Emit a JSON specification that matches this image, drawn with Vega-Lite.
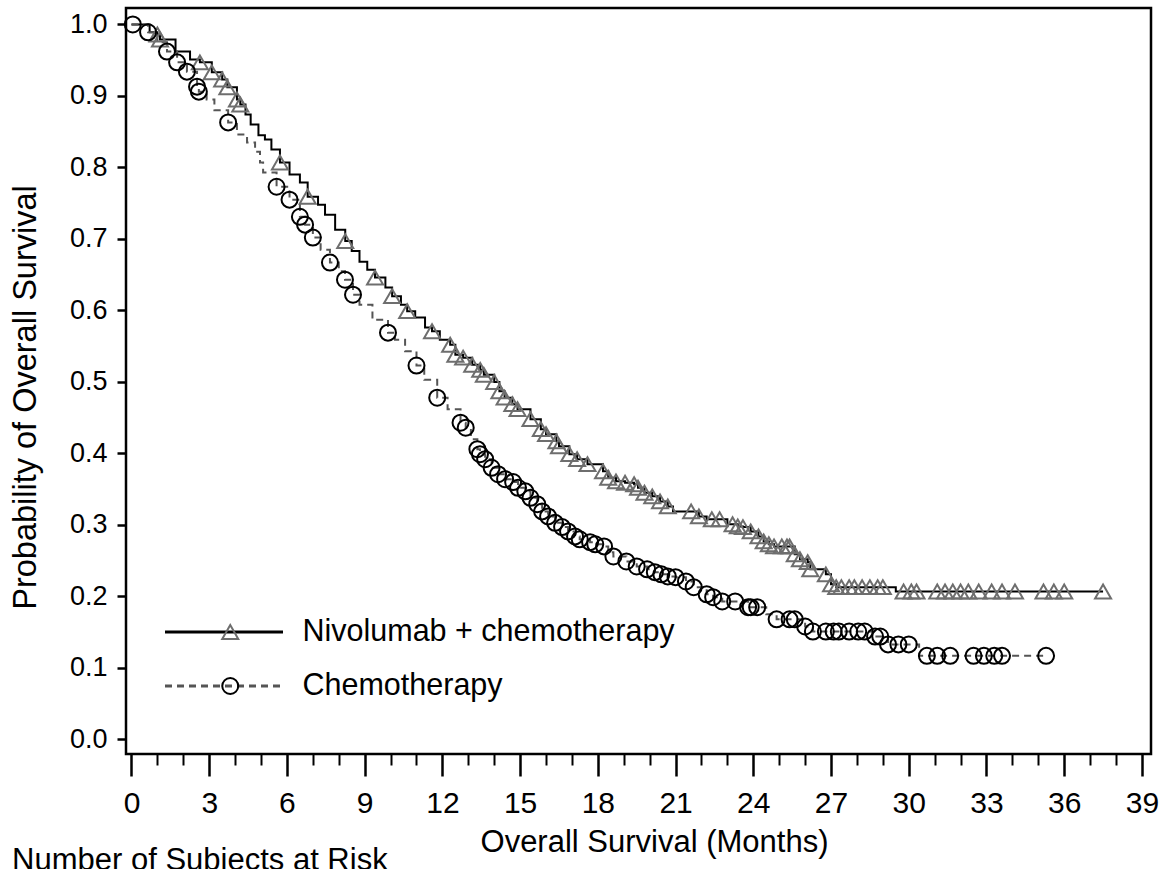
{
  "$schema": "https://vega.github.io/schema/vega-lite/v6.json",
  "width": 1025,
  "height": 746,
  "autosize": {"type": "none"},
  "padding": {"left": 126, "top": 8, "right": 15, "bottom": 115},
  "background": "white",
  "config": {
    "view": {"stroke": "black", "strokeWidth": 2.5},
    "font": "Liberation Sans, Arial, sans-serif"
  },
  "resolve": {"axis": {"x": "independent"}},
  "datasets": {
    "curve": [
      {"arm": "Nivolumab + chemotherapy", "t": 0, "s": 1.0},
      {"arm": "Nivolumab + chemotherapy", "t": 0.7, "s": 0.989},
      {"arm": "Nivolumab + chemotherapy", "t": 1.0, "s": 0.986},
      {"arm": "Nivolumab + chemotherapy", "t": 1.1, "s": 0.979},
      {"arm": "Nivolumab + chemotherapy", "t": 1.7, "s": 0.962},
      {"arm": "Nivolumab + chemotherapy", "t": 2.26, "s": 0.951},
      {"arm": "Nivolumab + chemotherapy", "t": 2.64, "s": 0.947},
      {"arm": "Nivolumab + chemotherapy", "t": 3.1, "s": 0.933},
      {"arm": "Nivolumab + chemotherapy", "t": 3.5, "s": 0.923},
      {"arm": "Nivolumab + chemotherapy", "t": 3.7, "s": 0.912},
      {"arm": "Nivolumab + chemotherapy", "t": 4.07, "s": 0.895},
      {"arm": "Nivolumab + chemotherapy", "t": 4.2, "s": 0.888},
      {"arm": "Nivolumab + chemotherapy", "t": 4.4, "s": 0.874},
      {"arm": "Nivolumab + chemotherapy", "t": 4.6, "s": 0.86},
      {"arm": "Nivolumab + chemotherapy", "t": 4.9, "s": 0.845},
      {"arm": "Nivolumab + chemotherapy", "t": 5.15, "s": 0.839},
      {"arm": "Nivolumab + chemotherapy", "t": 5.4, "s": 0.825},
      {"arm": "Nivolumab + chemotherapy", "t": 5.73, "s": 0.807},
      {"arm": "Nivolumab + chemotherapy", "t": 6.1, "s": 0.79},
      {"arm": "Nivolumab + chemotherapy", "t": 6.5, "s": 0.779},
      {"arm": "Nivolumab + chemotherapy", "t": 6.8, "s": 0.759},
      {"arm": "Nivolumab + chemotherapy", "t": 7.2, "s": 0.748},
      {"arm": "Nivolumab + chemotherapy", "t": 7.47, "s": 0.734},
      {"arm": "Nivolumab + chemotherapy", "t": 7.86, "s": 0.713},
      {"arm": "Nivolumab + chemotherapy", "t": 8.25, "s": 0.697},
      {"arm": "Nivolumab + chemotherapy", "t": 8.5, "s": 0.683},
      {"arm": "Nivolumab + chemotherapy", "t": 8.8, "s": 0.668},
      {"arm": "Nivolumab + chemotherapy", "t": 9.1, "s": 0.657},
      {"arm": "Nivolumab + chemotherapy", "t": 9.4, "s": 0.646},
      {"arm": "Nivolumab + chemotherapy", "t": 9.8, "s": 0.632},
      {"arm": "Nivolumab + chemotherapy", "t": 10.06, "s": 0.62},
      {"arm": "Nivolumab + chemotherapy", "t": 10.4, "s": 0.608},
      {"arm": "Nivolumab + chemotherapy", "t": 10.64, "s": 0.599},
      {"arm": "Nivolumab + chemotherapy", "t": 10.95, "s": 0.59},
      {"arm": "Nivolumab + chemotherapy", "t": 11.33, "s": 0.576},
      {"arm": "Nivolumab + chemotherapy", "t": 11.6, "s": 0.571},
      {"arm": "Nivolumab + chemotherapy", "t": 11.9, "s": 0.559},
      {"arm": "Nivolumab + chemotherapy", "t": 12.3, "s": 0.552},
      {"arm": "Nivolumab + chemotherapy", "t": 12.5, "s": 0.538},
      {"arm": "Nivolumab + chemotherapy", "t": 12.8, "s": 0.534},
      {"arm": "Nivolumab + chemotherapy", "t": 13.15, "s": 0.524},
      {"arm": "Nivolumab + chemotherapy", "t": 13.46, "s": 0.517},
      {"arm": "Nivolumab + chemotherapy", "t": 13.6, "s": 0.51},
      {"arm": "Nivolumab + chemotherapy", "t": 14.0, "s": 0.5},
      {"arm": "Nivolumab + chemotherapy", "t": 14.2, "s": 0.487},
      {"arm": "Nivolumab + chemotherapy", "t": 14.4, "s": 0.478},
      {"arm": "Nivolumab + chemotherapy", "t": 14.7, "s": 0.469},
      {"arm": "Nivolumab + chemotherapy", "t": 14.9, "s": 0.462},
      {"arm": "Nivolumab + chemotherapy", "t": 15.4, "s": 0.448},
      {"arm": "Nivolumab + chemotherapy", "t": 15.8, "s": 0.434},
      {"arm": "Nivolumab + chemotherapy", "t": 16.0, "s": 0.427},
      {"arm": "Nivolumab + chemotherapy", "t": 16.4, "s": 0.417},
      {"arm": "Nivolumab + chemotherapy", "t": 16.5, "s": 0.41},
      {"arm": "Nivolumab + chemotherapy", "t": 16.9, "s": 0.399},
      {"arm": "Nivolumab + chemotherapy", "t": 17.2, "s": 0.392},
      {"arm": "Nivolumab + chemotherapy", "t": 17.6, "s": 0.385},
      {"arm": "Nivolumab + chemotherapy", "t": 18.2, "s": 0.375},
      {"arm": "Nivolumab + chemotherapy", "t": 18.4, "s": 0.366},
      {"arm": "Nivolumab + chemotherapy", "t": 18.7, "s": 0.361},
      {"arm": "Nivolumab + chemotherapy", "t": 19.05, "s": 0.359},
      {"arm": "Nivolumab + chemotherapy", "t": 19.4, "s": 0.357},
      {"arm": "Nivolumab + chemotherapy", "t": 19.55, "s": 0.352},
      {"arm": "Nivolumab + chemotherapy", "t": 19.8, "s": 0.345},
      {"arm": "Nivolumab + chemotherapy", "t": 20.1, "s": 0.34},
      {"arm": "Nivolumab + chemotherapy", "t": 20.4, "s": 0.333},
      {"arm": "Nivolumab + chemotherapy", "t": 20.7, "s": 0.326},
      {"arm": "Nivolumab + chemotherapy", "t": 20.9, "s": 0.319},
      {"arm": "Nivolumab + chemotherapy", "t": 21.6, "s": 0.319},
      {"arm": "Nivolumab + chemotherapy", "t": 21.9, "s": 0.312},
      {"arm": "Nivolumab + chemotherapy", "t": 22.2, "s": 0.308},
      {"arm": "Nivolumab + chemotherapy", "t": 23.0, "s": 0.301},
      {"arm": "Nivolumab + chemotherapy", "t": 23.4, "s": 0.298},
      {"arm": "Nivolumab + chemotherapy", "t": 23.6, "s": 0.297},
      {"arm": "Nivolumab + chemotherapy", "t": 23.9, "s": 0.291},
      {"arm": "Nivolumab + chemotherapy", "t": 24.2, "s": 0.284},
      {"arm": "Nivolumab + chemotherapy", "t": 24.4, "s": 0.277},
      {"arm": "Nivolumab + chemotherapy", "t": 24.6, "s": 0.273},
      {"arm": "Nivolumab + chemotherapy", "t": 24.8, "s": 0.27},
      {"arm": "Nivolumab + chemotherapy", "t": 25.4, "s": 0.27},
      {"arm": "Nivolumab + chemotherapy", "t": 25.6, "s": 0.259},
      {"arm": "Nivolumab + chemotherapy", "t": 25.8, "s": 0.252},
      {"arm": "Nivolumab + chemotherapy", "t": 26.1, "s": 0.248},
      {"arm": "Nivolumab + chemotherapy", "t": 26.2, "s": 0.238},
      {"arm": "Nivolumab + chemotherapy", "t": 26.8, "s": 0.231},
      {"arm": "Nivolumab + chemotherapy", "t": 27.0, "s": 0.217},
      {"arm": "Nivolumab + chemotherapy", "t": 27.2, "s": 0.213},
      {"arm": "Nivolumab + chemotherapy", "t": 29.5, "s": 0.207},
      {"arm": "Nivolumab + chemotherapy", "t": 37.5, "s": 0.207},
      {"arm": "Chemotherapy", "t": 0, "s": 1.0},
      {"arm": "Chemotherapy", "t": 0.64, "s": 0.989},
      {"arm": "Chemotherapy", "t": 1.0, "s": 0.975},
      {"arm": "Chemotherapy", "t": 1.37, "s": 0.962},
      {"arm": "Chemotherapy", "t": 1.76, "s": 0.947},
      {"arm": "Chemotherapy", "t": 2.14, "s": 0.934},
      {"arm": "Chemotherapy", "t": 2.53, "s": 0.913},
      {"arm": "Chemotherapy", "t": 2.6, "s": 0.906},
      {"arm": "Chemotherapy", "t": 2.9, "s": 0.895},
      {"arm": "Chemotherapy", "t": 3.2, "s": 0.88},
      {"arm": "Chemotherapy", "t": 3.73, "s": 0.863},
      {"arm": "Chemotherapy", "t": 4.07, "s": 0.846},
      {"arm": "Chemotherapy", "t": 4.46, "s": 0.835},
      {"arm": "Chemotherapy", "t": 4.77, "s": 0.822},
      {"arm": "Chemotherapy", "t": 4.96, "s": 0.807},
      {"arm": "Chemotherapy", "t": 5.08, "s": 0.793},
      {"arm": "Chemotherapy", "t": 5.6, "s": 0.773},
      {"arm": "Chemotherapy", "t": 6.1, "s": 0.755},
      {"arm": "Chemotherapy", "t": 6.5, "s": 0.731},
      {"arm": "Chemotherapy", "t": 6.7, "s": 0.72},
      {"arm": "Chemotherapy", "t": 7.0, "s": 0.702},
      {"arm": "Chemotherapy", "t": 7.3, "s": 0.685},
      {"arm": "Chemotherapy", "t": 7.66, "s": 0.667},
      {"arm": "Chemotherapy", "t": 8.0, "s": 0.655},
      {"arm": "Chemotherapy", "t": 8.24, "s": 0.643},
      {"arm": "Chemotherapy", "t": 8.55, "s": 0.622},
      {"arm": "Chemotherapy", "t": 8.8, "s": 0.608},
      {"arm": "Chemotherapy", "t": 9.3, "s": 0.587},
      {"arm": "Chemotherapy", "t": 9.9, "s": 0.569},
      {"arm": "Chemotherapy", "t": 10.17, "s": 0.559},
      {"arm": "Chemotherapy", "t": 10.56, "s": 0.543},
      {"arm": "Chemotherapy", "t": 11.0, "s": 0.523},
      {"arm": "Chemotherapy", "t": 11.3, "s": 0.503},
      {"arm": "Chemotherapy", "t": 11.8, "s": 0.478},
      {"arm": "Chemotherapy", "t": 12.2, "s": 0.462},
      {"arm": "Chemotherapy", "t": 12.7, "s": 0.443},
      {"arm": "Chemotherapy", "t": 12.9, "s": 0.436},
      {"arm": "Chemotherapy", "t": 13.1, "s": 0.42},
      {"arm": "Chemotherapy", "t": 13.35, "s": 0.406},
      {"arm": "Chemotherapy", "t": 13.45, "s": 0.399},
      {"arm": "Chemotherapy", "t": 13.65, "s": 0.392},
      {"arm": "Chemotherapy", "t": 13.9, "s": 0.38},
      {"arm": "Chemotherapy", "t": 14.15, "s": 0.371},
      {"arm": "Chemotherapy", "t": 14.42, "s": 0.364},
      {"arm": "Chemotherapy", "t": 14.73, "s": 0.36},
      {"arm": "Chemotherapy", "t": 14.92, "s": 0.352},
      {"arm": "Chemotherapy", "t": 15.2, "s": 0.347},
      {"arm": "Chemotherapy", "t": 15.4, "s": 0.338},
      {"arm": "Chemotherapy", "t": 15.66, "s": 0.329},
      {"arm": "Chemotherapy", "t": 15.85, "s": 0.319},
      {"arm": "Chemotherapy", "t": 16.08, "s": 0.312},
      {"arm": "Chemotherapy", "t": 16.35, "s": 0.303},
      {"arm": "Chemotherapy", "t": 16.62, "s": 0.297},
      {"arm": "Chemotherapy", "t": 16.85, "s": 0.291},
      {"arm": "Chemotherapy", "t": 17.12, "s": 0.284},
      {"arm": "Chemotherapy", "t": 17.3, "s": 0.28},
      {"arm": "Chemotherapy", "t": 17.7, "s": 0.276},
      {"arm": "Chemotherapy", "t": 17.9, "s": 0.273},
      {"arm": "Chemotherapy", "t": 18.24, "s": 0.27},
      {"arm": "Chemotherapy", "t": 18.4, "s": 0.262},
      {"arm": "Chemotherapy", "t": 18.6, "s": 0.256},
      {"arm": "Chemotherapy", "t": 19.1, "s": 0.249},
      {"arm": "Chemotherapy", "t": 19.5, "s": 0.242},
      {"arm": "Chemotherapy", "t": 19.9, "s": 0.238},
      {"arm": "Chemotherapy", "t": 20.2, "s": 0.234},
      {"arm": "Chemotherapy", "t": 20.45, "s": 0.231},
      {"arm": "Chemotherapy", "t": 20.7, "s": 0.228},
      {"arm": "Chemotherapy", "t": 21.0, "s": 0.227},
      {"arm": "Chemotherapy", "t": 21.4, "s": 0.221},
      {"arm": "Chemotherapy", "t": 21.7, "s": 0.213},
      {"arm": "Chemotherapy", "t": 22.2, "s": 0.203},
      {"arm": "Chemotherapy", "t": 22.45, "s": 0.199},
      {"arm": "Chemotherapy", "t": 22.8, "s": 0.193},
      {"arm": "Chemotherapy", "t": 23.8, "s": 0.185},
      {"arm": "Chemotherapy", "t": 24.5, "s": 0.175},
      {"arm": "Chemotherapy", "t": 24.9, "s": 0.168},
      {"arm": "Chemotherapy", "t": 26.0, "s": 0.158},
      {"arm": "Chemotherapy", "t": 26.3, "s": 0.151},
      {"arm": "Chemotherapy", "t": 28.7, "s": 0.144},
      {"arm": "Chemotherapy", "t": 29.2, "s": 0.133},
      {"arm": "Chemotherapy", "t": 30.4, "s": 0.117},
      {"arm": "Chemotherapy", "t": 35.3, "s": 0.117}
    ],
    "censored": [
      {"arm": "Nivolumab + chemotherapy", "t": 1.0, "s": 0.986},
      {"arm": "Nivolumab + chemotherapy", "t": 1.1, "s": 0.979},
      {"arm": "Nivolumab + chemotherapy", "t": 2.64, "s": 0.947},
      {"arm": "Nivolumab + chemotherapy", "t": 3.1, "s": 0.933},
      {"arm": "Nivolumab + chemotherapy", "t": 3.5, "s": 0.923},
      {"arm": "Nivolumab + chemotherapy", "t": 3.7, "s": 0.912},
      {"arm": "Nivolumab + chemotherapy", "t": 4.07, "s": 0.895},
      {"arm": "Nivolumab + chemotherapy", "t": 4.2, "s": 0.888},
      {"arm": "Nivolumab + chemotherapy", "t": 5.73, "s": 0.807},
      {"arm": "Nivolumab + chemotherapy", "t": 6.8, "s": 0.759},
      {"arm": "Nivolumab + chemotherapy", "t": 8.25, "s": 0.697},
      {"arm": "Nivolumab + chemotherapy", "t": 9.4, "s": 0.646},
      {"arm": "Nivolumab + chemotherapy", "t": 10.06, "s": 0.62},
      {"arm": "Nivolumab + chemotherapy", "t": 10.64, "s": 0.599},
      {"arm": "Nivolumab + chemotherapy", "t": 11.6, "s": 0.571},
      {"arm": "Nivolumab + chemotherapy", "t": 12.3, "s": 0.552},
      {"arm": "Nivolumab + chemotherapy", "t": 12.5, "s": 0.538},
      {"arm": "Nivolumab + chemotherapy", "t": 12.8, "s": 0.534},
      {"arm": "Nivolumab + chemotherapy", "t": 13.15, "s": 0.524},
      {"arm": "Nivolumab + chemotherapy", "t": 13.46, "s": 0.517},
      {"arm": "Nivolumab + chemotherapy", "t": 13.6, "s": 0.51},
      {"arm": "Nivolumab + chemotherapy", "t": 14.0, "s": 0.5},
      {"arm": "Nivolumab + chemotherapy", "t": 14.2, "s": 0.487},
      {"arm": "Nivolumab + chemotherapy", "t": 14.4, "s": 0.478},
      {"arm": "Nivolumab + chemotherapy", "t": 14.7, "s": 0.469},
      {"arm": "Nivolumab + chemotherapy", "t": 14.9, "s": 0.462},
      {"arm": "Nivolumab + chemotherapy", "t": 15.4, "s": 0.448},
      {"arm": "Nivolumab + chemotherapy", "t": 15.8, "s": 0.434},
      {"arm": "Nivolumab + chemotherapy", "t": 16.0, "s": 0.427},
      {"arm": "Nivolumab + chemotherapy", "t": 16.4, "s": 0.417},
      {"arm": "Nivolumab + chemotherapy", "t": 16.5, "s": 0.41},
      {"arm": "Nivolumab + chemotherapy", "t": 16.9, "s": 0.399},
      {"arm": "Nivolumab + chemotherapy", "t": 17.2, "s": 0.392},
      {"arm": "Nivolumab + chemotherapy", "t": 17.6, "s": 0.385},
      {"arm": "Nivolumab + chemotherapy", "t": 18.2, "s": 0.375},
      {"arm": "Nivolumab + chemotherapy", "t": 18.4, "s": 0.366},
      {"arm": "Nivolumab + chemotherapy", "t": 18.7, "s": 0.361},
      {"arm": "Nivolumab + chemotherapy", "t": 19.05, "s": 0.359},
      {"arm": "Nivolumab + chemotherapy", "t": 19.4, "s": 0.357},
      {"arm": "Nivolumab + chemotherapy", "t": 19.55, "s": 0.352},
      {"arm": "Nivolumab + chemotherapy", "t": 19.8, "s": 0.345},
      {"arm": "Nivolumab + chemotherapy", "t": 20.1, "s": 0.34},
      {"arm": "Nivolumab + chemotherapy", "t": 20.4, "s": 0.333},
      {"arm": "Nivolumab + chemotherapy", "t": 20.7, "s": 0.326},
      {"arm": "Nivolumab + chemotherapy", "t": 21.6, "s": 0.319},
      {"arm": "Nivolumab + chemotherapy", "t": 21.9, "s": 0.312},
      {"arm": "Nivolumab + chemotherapy", "t": 22.4, "s": 0.308},
      {"arm": "Nivolumab + chemotherapy", "t": 22.7, "s": 0.308},
      {"arm": "Nivolumab + chemotherapy", "t": 23.2, "s": 0.301},
      {"arm": "Nivolumab + chemotherapy", "t": 23.4, "s": 0.298},
      {"arm": "Nivolumab + chemotherapy", "t": 23.6, "s": 0.297},
      {"arm": "Nivolumab + chemotherapy", "t": 23.9, "s": 0.291},
      {"arm": "Nivolumab + chemotherapy", "t": 24.2, "s": 0.284},
      {"arm": "Nivolumab + chemotherapy", "t": 24.4, "s": 0.277},
      {"arm": "Nivolumab + chemotherapy", "t": 24.6, "s": 0.273},
      {"arm": "Nivolumab + chemotherapy", "t": 24.8, "s": 0.27},
      {"arm": "Nivolumab + chemotherapy", "t": 25.1, "s": 0.27},
      {"arm": "Nivolumab + chemotherapy", "t": 25.3, "s": 0.27},
      {"arm": "Nivolumab + chemotherapy", "t": 25.4, "s": 0.27},
      {"arm": "Nivolumab + chemotherapy", "t": 25.6, "s": 0.259},
      {"arm": "Nivolumab + chemotherapy", "t": 25.8, "s": 0.252},
      {"arm": "Nivolumab + chemotherapy", "t": 26.1, "s": 0.248},
      {"arm": "Nivolumab + chemotherapy", "t": 26.2, "s": 0.238},
      {"arm": "Nivolumab + chemotherapy", "t": 26.8, "s": 0.231},
      {"arm": "Nivolumab + chemotherapy", "t": 27.0, "s": 0.217},
      {"arm": "Nivolumab + chemotherapy", "t": 27.2, "s": 0.213},
      {"arm": "Nivolumab + chemotherapy", "t": 27.4, "s": 0.213},
      {"arm": "Nivolumab + chemotherapy", "t": 27.7, "s": 0.213},
      {"arm": "Nivolumab + chemotherapy", "t": 27.9, "s": 0.213},
      {"arm": "Nivolumab + chemotherapy", "t": 28.2, "s": 0.213},
      {"arm": "Nivolumab + chemotherapy", "t": 28.5, "s": 0.213},
      {"arm": "Nivolumab + chemotherapy", "t": 28.8, "s": 0.213},
      {"arm": "Nivolumab + chemotherapy", "t": 29.0, "s": 0.213},
      {"arm": "Nivolumab + chemotherapy", "t": 29.8, "s": 0.207},
      {"arm": "Nivolumab + chemotherapy", "t": 30.1, "s": 0.207},
      {"arm": "Nivolumab + chemotherapy", "t": 30.3, "s": 0.207},
      {"arm": "Nivolumab + chemotherapy", "t": 31.1, "s": 0.207},
      {"arm": "Nivolumab + chemotherapy", "t": 31.4, "s": 0.207},
      {"arm": "Nivolumab + chemotherapy", "t": 31.7, "s": 0.207},
      {"arm": "Nivolumab + chemotherapy", "t": 32.0, "s": 0.207},
      {"arm": "Nivolumab + chemotherapy", "t": 32.3, "s": 0.207},
      {"arm": "Nivolumab + chemotherapy", "t": 32.7, "s": 0.207},
      {"arm": "Nivolumab + chemotherapy", "t": 33.2, "s": 0.207},
      {"arm": "Nivolumab + chemotherapy", "t": 33.6, "s": 0.207},
      {"arm": "Nivolumab + chemotherapy", "t": 34.1, "s": 0.207},
      {"arm": "Nivolumab + chemotherapy", "t": 35.2, "s": 0.207},
      {"arm": "Nivolumab + chemotherapy", "t": 35.6, "s": 0.207},
      {"arm": "Nivolumab + chemotherapy", "t": 36.0, "s": 0.207},
      {"arm": "Nivolumab + chemotherapy", "t": 37.5, "s": 0.207},
      {"arm": "Chemotherapy", "t": 0.05, "s": 1.0},
      {"arm": "Chemotherapy", "t": 0.64, "s": 0.989},
      {"arm": "Chemotherapy", "t": 1.37, "s": 0.962},
      {"arm": "Chemotherapy", "t": 1.76, "s": 0.947},
      {"arm": "Chemotherapy", "t": 2.14, "s": 0.934},
      {"arm": "Chemotherapy", "t": 2.53, "s": 0.913},
      {"arm": "Chemotherapy", "t": 2.6, "s": 0.906},
      {"arm": "Chemotherapy", "t": 3.73, "s": 0.863},
      {"arm": "Chemotherapy", "t": 5.6, "s": 0.773},
      {"arm": "Chemotherapy", "t": 6.1, "s": 0.755},
      {"arm": "Chemotherapy", "t": 6.5, "s": 0.731},
      {"arm": "Chemotherapy", "t": 6.7, "s": 0.72},
      {"arm": "Chemotherapy", "t": 7.0, "s": 0.702},
      {"arm": "Chemotherapy", "t": 7.66, "s": 0.667},
      {"arm": "Chemotherapy", "t": 8.24, "s": 0.643},
      {"arm": "Chemotherapy", "t": 8.55, "s": 0.622},
      {"arm": "Chemotherapy", "t": 9.9, "s": 0.569},
      {"arm": "Chemotherapy", "t": 11.0, "s": 0.523},
      {"arm": "Chemotherapy", "t": 11.8, "s": 0.478},
      {"arm": "Chemotherapy", "t": 12.7, "s": 0.443},
      {"arm": "Chemotherapy", "t": 12.9, "s": 0.436},
      {"arm": "Chemotherapy", "t": 13.35, "s": 0.406},
      {"arm": "Chemotherapy", "t": 13.45, "s": 0.399},
      {"arm": "Chemotherapy", "t": 13.65, "s": 0.392},
      {"arm": "Chemotherapy", "t": 13.9, "s": 0.38},
      {"arm": "Chemotherapy", "t": 14.15, "s": 0.371},
      {"arm": "Chemotherapy", "t": 14.42, "s": 0.364},
      {"arm": "Chemotherapy", "t": 14.73, "s": 0.36},
      {"arm": "Chemotherapy", "t": 14.92, "s": 0.352},
      {"arm": "Chemotherapy", "t": 15.2, "s": 0.347},
      {"arm": "Chemotherapy", "t": 15.4, "s": 0.338},
      {"arm": "Chemotherapy", "t": 15.66, "s": 0.329},
      {"arm": "Chemotherapy", "t": 15.85, "s": 0.319},
      {"arm": "Chemotherapy", "t": 16.08, "s": 0.312},
      {"arm": "Chemotherapy", "t": 16.35, "s": 0.303},
      {"arm": "Chemotherapy", "t": 16.62, "s": 0.297},
      {"arm": "Chemotherapy", "t": 16.85, "s": 0.291},
      {"arm": "Chemotherapy", "t": 17.12, "s": 0.284},
      {"arm": "Chemotherapy", "t": 17.3, "s": 0.28},
      {"arm": "Chemotherapy", "t": 17.7, "s": 0.276},
      {"arm": "Chemotherapy", "t": 17.9, "s": 0.273},
      {"arm": "Chemotherapy", "t": 18.24, "s": 0.27},
      {"arm": "Chemotherapy", "t": 18.6, "s": 0.256},
      {"arm": "Chemotherapy", "t": 19.1, "s": 0.249},
      {"arm": "Chemotherapy", "t": 19.5, "s": 0.242},
      {"arm": "Chemotherapy", "t": 19.9, "s": 0.238},
      {"arm": "Chemotherapy", "t": 20.2, "s": 0.234},
      {"arm": "Chemotherapy", "t": 20.45, "s": 0.231},
      {"arm": "Chemotherapy", "t": 20.7, "s": 0.228},
      {"arm": "Chemotherapy", "t": 21.0, "s": 0.227},
      {"arm": "Chemotherapy", "t": 21.4, "s": 0.221},
      {"arm": "Chemotherapy", "t": 21.7, "s": 0.213},
      {"arm": "Chemotherapy", "t": 22.2, "s": 0.203},
      {"arm": "Chemotherapy", "t": 22.45, "s": 0.199},
      {"arm": "Chemotherapy", "t": 22.8, "s": 0.193},
      {"arm": "Chemotherapy", "t": 23.3, "s": 0.193},
      {"arm": "Chemotherapy", "t": 23.8, "s": 0.185},
      {"arm": "Chemotherapy", "t": 23.9, "s": 0.185},
      {"arm": "Chemotherapy", "t": 24.15, "s": 0.185},
      {"arm": "Chemotherapy", "t": 24.9, "s": 0.168},
      {"arm": "Chemotherapy", "t": 25.4, "s": 0.168},
      {"arm": "Chemotherapy", "t": 25.6, "s": 0.168},
      {"arm": "Chemotherapy", "t": 26.0, "s": 0.158},
      {"arm": "Chemotherapy", "t": 26.3, "s": 0.151},
      {"arm": "Chemotherapy", "t": 26.8, "s": 0.151},
      {"arm": "Chemotherapy", "t": 27.1, "s": 0.151},
      {"arm": "Chemotherapy", "t": 27.3, "s": 0.151},
      {"arm": "Chemotherapy", "t": 27.7, "s": 0.151},
      {"arm": "Chemotherapy", "t": 28.05, "s": 0.151},
      {"arm": "Chemotherapy", "t": 28.3, "s": 0.151},
      {"arm": "Chemotherapy", "t": 28.7, "s": 0.144},
      {"arm": "Chemotherapy", "t": 28.9, "s": 0.144},
      {"arm": "Chemotherapy", "t": 29.2, "s": 0.133},
      {"arm": "Chemotherapy", "t": 29.6, "s": 0.133},
      {"arm": "Chemotherapy", "t": 30.0, "s": 0.133},
      {"arm": "Chemotherapy", "t": 30.7, "s": 0.117},
      {"arm": "Chemotherapy", "t": 31.1, "s": 0.117},
      {"arm": "Chemotherapy", "t": 31.6, "s": 0.117},
      {"arm": "Chemotherapy", "t": 32.5, "s": 0.117},
      {"arm": "Chemotherapy", "t": 32.9, "s": 0.117},
      {"arm": "Chemotherapy", "t": 33.3, "s": 0.117},
      {"arm": "Chemotherapy", "t": 33.6, "s": 0.117},
      {"arm": "Chemotherapy", "t": 35.3, "s": 0.117}
    ]
  },
  "layer": [
    {
      "data": {"name": "curve"},
      "mark": {"type": "line", "interpolate": "step-after", "strokeWidth": 2},
      "encoding": {
        "x": {
          "field": "t", "type": "quantitative",
          "scale": {"domain": [-0.212, 39.35], "nice": false, "zero": false},
          "axis": {
            "orient": "bottom",
            "values": [0, 3, 6, 9, 12, 15, 18, 21, 24, 27, 30, 33, 36, 39],
            "format": "d",
            "tickSize": 22, "tickWidth": 2.5, "tickColor": "black",
            "domain": false, "grid": false,
            "labelFontSize": 30, "labelColor": "black", "labelPadding": 12,
            "labelOverlap": false, "labelFlush": false,
            "title": "Overall Survival (Months)",
            "titleFontSize": 31, "titleFontWeight": "normal", "titleColor": "black",
            "titlePadding": 9, "titleX": 528
          }
        },
        "y": {
          "field": "s", "type": "quantitative",
          "scale": {"domain": [-0.0203, 1.023], "nice": false, "zero": false},
          "axis": {
            "values": [0, 0.1, 0.2, 0.3, 0.4, 0.5, 0.6, 0.7, 0.8, 0.9, 1.0],
            "format": ".1f",
            "tickSize": 9, "tickWidth": 2.5, "tickColor": "black",
            "domain": false, "grid": false,
            "labelFontSize": 27, "labelColor": "black", "labelPadding": 10,
            "labelOverlap": false,
            "title": "Probability of Overall Survival",
            "titleFontSize": 32.5, "titleFontWeight": "normal", "titleColor": "black",
            "titlePadding": 27, "titleY": 389
          }
        },
        "stroke": {
          "field": "arm", "type": "nominal", "sort": "descending",
          "scale": {"range": ["black", "#555555"]},
          "legend": {"orient": "none", "legendX": 37.5, "legendY": 604, "title": null, "symbolType": "stroke", "symbolSize": 13924, "symbolStrokeWidth": 3, "clipHeight": 40, "rowPadding": 14, "padding": 0, "labelFontSize": 30.5, "labelColor": "black", "labelOffset": 18, "labelLimit": 0}
        },
        "strokeDash": {
          "field": "arm", "type": "nominal", "sort": "descending",
          "scale": {"range": [[1, 0], [7, 5]]},
          "legend": {"orient": "none", "legendX": 37.5, "legendY": 604, "title": null, "symbolType": "stroke", "symbolSize": 13924, "symbolStrokeWidth": 3, "clipHeight": 40, "rowPadding": 14, "padding": 0, "labelFontSize": 30.5, "labelColor": "black", "labelOffset": 18, "labelLimit": 0}
        }
      }
    },
    {
      "data": {"name": "censored"},
      "mark": {"type": "point", "filled": false, "strokeWidth": 2, "size": 256, "opacity": 1},
      "encoding": {
        "x": {"field": "t", "type": "quantitative", "axis": null},
        "y": {"field": "s", "type": "quantitative"},
        "shape": {
          "field": "arm", "type": "nominal", "sort": "descending",
          "scale": {"range": ["triangle-up", "circle"]},
          "legend": {"orient": "none", "legendX": 89, "legendY": 604, "title": null, "symbolSize": 256, "symbolStrokeWidth": 2, "clipHeight": 40, "rowPadding": 14, "padding": 0, "labelFontSize": 30.5, "labelExpr": "' '", "labelOffset": 18, "labelLimit": 0}
        },
        "color": {
          "field": "arm", "type": "nominal", "sort": "descending",
          "scale": {"range": ["#6e6e6e", "black"]},
          "legend": {"orient": "none", "legendX": 89, "legendY": 604, "title": null, "symbolSize": 256, "symbolStrokeWidth": 2, "clipHeight": 40, "rowPadding": 14, "padding": 0, "labelFontSize": 30.5, "labelExpr": "' '", "labelOffset": 18, "labelLimit": 0}
        }
      }
    },
    {
      "data": {"values": [{"label": "Number of Subjects at Risk"}]},
      "mark": {"type": "text", "align": "left", "baseline": "top", "fontSize": 31, "color": "black"},
      "encoding": {
        "x": {
          "datum": -4.61, "type": "quantitative",
          "axis": {
            "orient": "bottom",
            "values": [1, 2, 4, 5, 7, 8, 10, 11, 13, 14, 16, 17, 19, 20, 22, 23, 25, 26, 28, 29, 31, 32, 34, 35, 37, 38],
            "tickSize": 11, "tickWidth": 2, "tickColor": "black",
            "domain": false, "grid": false, "labels": false, "title": null
          }
        },
        "y": {"datum": -0.149, "type": "quantitative"},
        "text": {"field": "label"}
      }
    }
  ]
}
